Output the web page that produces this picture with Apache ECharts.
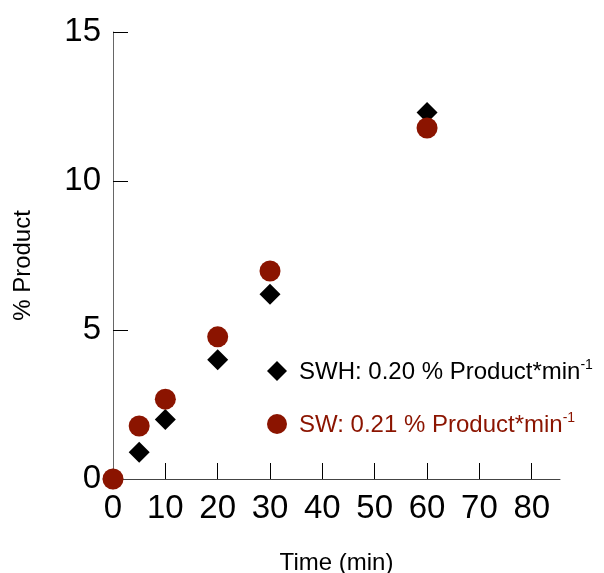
<!DOCTYPE html>
<html><head><meta charset="utf-8">
<script src="https://cdn.jsdelivr.net/npm/echarts@6/dist/echarts.min.js"></script>
<style>html,body{margin:0;padding:0;background:#fff}#c{width:604px;height:573px}</style>
</head><body><div id="c"></div>
<script>
const times = [0, 5, 10, 20, 30, 60];
const swhValues = [0, 0.9, 2.0, 4.0, 6.2, 12.3];
const swValues = [0, 1.78, 2.68, 4.77, 6.98, 11.78];
const xTicks = [0, 10, 20, 30, 40, 50, 60, 70, 80];
const yTicks = [0, 5, 10, 15];
const swhName = 'SWH: 0.20 % Product*min';
const swName = 'SW: 0.21 % Product*min';

const FONT = '"Liberation Sans", Arial, Helvetica, sans-serif';
const RED = '#8b1400';
const chart = echarts.init(document.getElementById('c'));

function legendFor(name, icon, color, top) {
  return {
    data: [{name: name, icon: icon}],
    left: 262, top: top, orient: 'vertical',
    itemWidth: 20, itemHeight: 20,
    selectedMode: false,
    formatter: n => '{a|' + n + '}{s|-1}',
    textStyle: {
      fontFamily: FONT, color: color,
      rich: {
        a: {fontFamily: FONT, fontSize: 24, color: color, lineHeight: 26, verticalAlign: 'bottom', padding: [0, 0, 0, 7]},
        s: {fontFamily: FONT, fontSize: 14, color: color, lineHeight: 14, verticalAlign: 'top', padding: [0, 0, 19, 0]}
      }
    }
  };
}

chart.setOption({
  animation: false,
  backgroundColor: '#fff',
  grid: {left: 113, top: 32, right: 44, bottom: 94, outerBoundsMode: 'none', containLabel: false},
  legend: [legendFor(swhName, 'diamond', '#000', 353), legendFor(swName, 'circle', RED, 406)],
  xAxis: {
    type: 'value', min: 0, max: 85.4,
    name: 'Time (min)', nameLocation: 'middle', nameGap: 72,
    nameTextStyle: {fontFamily: FONT, fontSize: 24, color: '#000'},
    axisLine: {show: true, lineStyle: {color: '#444', width: 1}},
    axisTick: {show: true, inside: true, length: 16, lineStyle: {color: '#000'}, customValues: xTicks.slice(1)},
    axisLabel: {fontFamily: FONT, fontSize: 33, color: '#000', margin: 13, customValues: xTicks},
    splitLine: {show: false}
  },
  yAxis: {
    type: 'value', min: 0, max: 15,
    name: '% Product', nameLocation: 'middle', nameGap: 78,
    nameTextStyle: {fontFamily: FONT, fontSize: 24, color: '#000', padding: [0, 20, 0, 0]},
    axisLine: {show: true, lineStyle: {color: '#666', width: 1}},
    axisTick: {show: true, inside: true, length: 15, lineStyle: {color: '#000'}, customValues: yTicks.slice(1)},
    axisLabel: {fontFamily: FONT, fontSize: 33, color: '#000', margin: 12, customValues: yTicks},
    splitLine: {show: false}
  },
  series: [
    {name: swhName, type: 'scatter', symbol: 'diamond', symbolSize: 21,
     itemStyle: {color: '#000', opacity: 1}, data: times.map((t, i) => [t, swhValues[i]])},
    {name: swName, type: 'scatter', symbol: 'circle', symbolSize: 21,
     itemStyle: {color: RED, opacity: 1}, data: times.map((t, i) => [t, swValues[i]])}
  ]
});
</script></body></html>
